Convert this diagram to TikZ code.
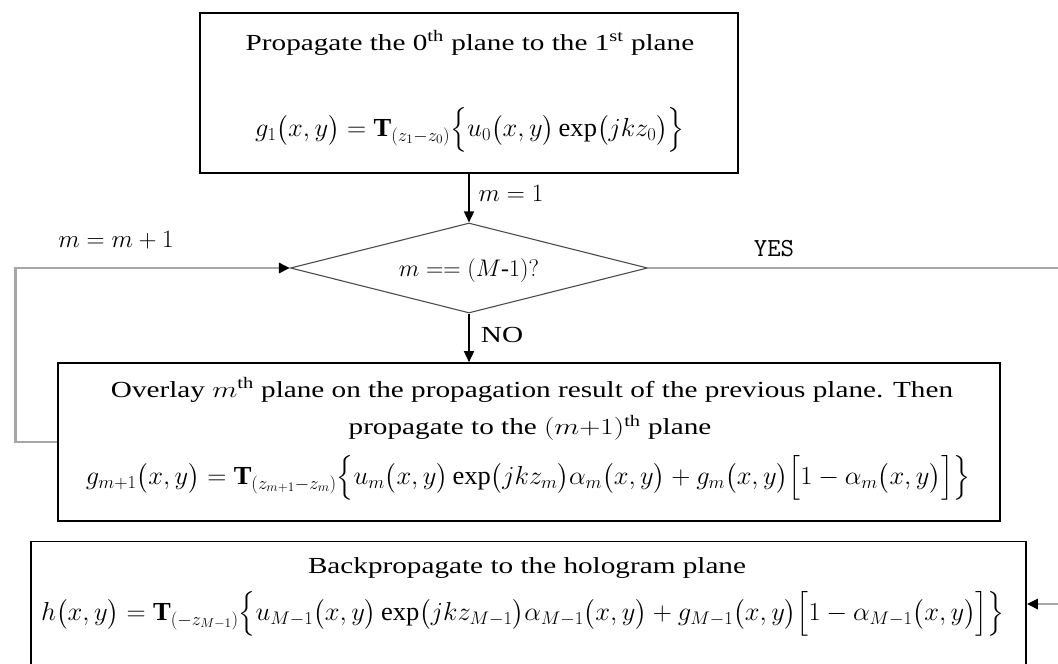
\RequirePackage{fix-cm}
\documentclass[tikz,border=0pt]{standalone}
\usepackage{amsmath}
\usepackage{graphicx}
\usepackage{fontspec}
\setmainfont{Liberation Serif}
\newcommand{\wx}[1]{\scalebox{1.27}[1]{#1}}
\newcommand{\fx}[1]{\scalebox{1.02}[1]{#1}}
\usetikzlibrary{shapes.geometric,arrows.meta}
\begin{document}
\begin{tikzpicture}[x=1pt,y=-1pt,
  box/.style={draw=black,line width=1.6pt,inner sep=0pt},
  txt/.style={inner sep=0pt,font=\fontsize{23}{27}\selectfont},
  frm/.style={inner sep=0pt,font=\fontsize{26}{30}\selectfont},
  lbl/.style={inner sep=0pt,font=\fontsize{25}{29}\selectfont},
  blackarrow/.style={draw=black,line width=1.4pt,-{Triangle[length=11pt,width=10pt]}},
  grayarrow/.style={draw=black!35,line width=2.6pt,-{Triangle[length=11pt,width=10pt,color=black]}},
  decision/.style={diamond,draw=black!70,line width=1.1pt,inner sep=0pt,minimum width=357pt,minimum height=90pt}]
\useasboundingbox (0,0) rectangle (1058,664);
% boxes
\node[box,minimum width=538pt,minimum height=160pt] (top) at (469,93) {};
\node[decision] (dia) at (469,268) {};
\node[box,minimum width=942pt,minimum height=158pt] (mid) at (529,442) {};
\node[box,minimum width=995pt,minimum height=200pt] (bot) at (528.5,641.5) {};
% texts
\node[txt] (t1) at (470,43) {\wx{Propagate the 0\textsuperscript{th} plane to the 1\textsuperscript{st} plane}};
\node[frm] (f1) at (470,130) {\fx{$g_1\bigl(x, y\bigr) = \mathbf{T}_{(z_1-z_0)}\Bigl\{u_0\bigl(x, y\bigr)\exp\bigl(jkz_0\bigr)\Bigr\}$}};
\node[inner sep=0pt,font=\fontsize{24}{28}\selectfont] (dt) at (469,270) {$m == (M\text{-}1)?$};
\node[txt] (m1) at (532,390) {\wx{Overlay $m$\textsuperscript{th} plane on the propagation result of the previous plane. Then}};
\node[txt] (m2) at (530,428) {\wx{propagate to the $(m{+}1)$\textsuperscript{th} plane}};
\node[frm] (mf) at (528,478) {\fx{$g_{m+1}\bigl(x, y\bigr) = \mathbf{T}_{(z_{m+1}-z_m)}\Bigl\{u_m\bigl(x, y\bigr)\exp\bigl(jkz_m\bigr)\alpha_m\bigl(x, y\bigr) + g_m\bigl(x, y\bigr)\Bigl[1-\alpha_m\bigl(x, y\bigr)\Bigr]\Bigr\}$}};
\node[txt] (b1) at (527,568) {\wx{Backpropagate to the hologram plane}};
\node[frm] (bf) at (523,614) {\fx{$h\bigl(x, y\bigr) = \mathbf{T}_{(-z_{M-1})}\Bigl\{u_{M-1}\bigl(x, y\bigr)\exp\bigl(jkz_{M-1}\bigr)\alpha_{M-1}\bigl(x, y\bigr) + g_{M-1}\bigl(x, y\bigr)\Bigl[1-\alpha_{M-1}\bigl(x, y\bigr)\Bigr]\Bigr\}$}};
% labels
\node[lbl] (lm1) at (511,193) {$m = 1$};
\node[lbl] (lmm) at (116,240) {$m = m + 1$};
\node[inner sep=0pt,font=\ttfamily\fontsize{26}{30}\selectfont] (lyes) at (774,249) {YES};
\node[txt] (lno) at (502,335) {\wx{NO}};
% connectors
\coordinate (lp) at (15.5,442);
\coordinate (rp) at (1075,268);
\coordinate (ba) at (bot.east |- 0,604);
\draw[blackarrow] (top.south) -- (dia.north);
\draw[blackarrow] (dia.south) -- (dia.south |- mid.north);
\draw[grayarrow] (mid.west) -- (lp) |- (dia.west);
\draw[grayarrow] (dia.east) -- (rp) |- (ba);
\end{tikzpicture}
\end{document}
